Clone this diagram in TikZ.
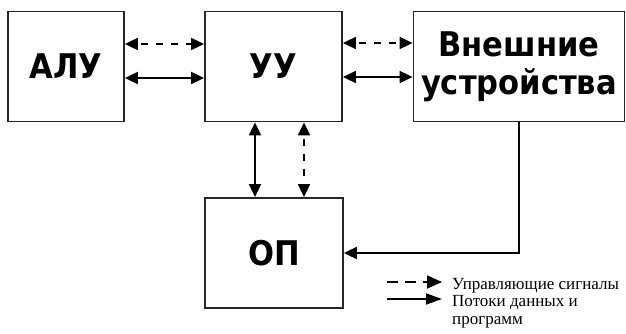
\documentclass[tikz,border=0pt]{standalone}
\usepackage{fontspec}
\setmainfont{Liberation Serif}
\newfontfamily\blockfont{DejaVu Sans Condensed}
\usetikzlibrary{arrows.meta}
\tikzset{
  cpu block/.style={
    draw=black!85,line width=1.8pt,fill=white,inner sep=0pt,
    font=\blockfont\bfseries\fontsize{34}{38}\selectfont,align=center
  },
  cpu link/.style={black,line width=1.8pt,
    {Triangle[length=13pt,width=12pt]}-{Triangle[length=13pt,width=12pt]}},
  cpu ctrl/.style={cpu link,dash pattern=on 7pt off 8pt,dash phase=-4pt},
  cpu note/.style={anchor=base west,font=\fontsize{17}{18}\selectfont,inner sep=0pt}
}

\begin{document}
\begin{tikzpicture}[x=1pt,y=-1pt]
  \useasboundingbox (0,0) rectangle (626,334);
  \node[cpu block,minimum width=116pt,minimum height=110pt] (alu) at (66,66.5) {АЛУ};
  \node[cpu block,minimum width=137pt,minimum height=110pt] (uu) at (273.5,66.5) {УУ};
  \node[cpu block,minimum width=211pt,minimum height=110pt] (vu) at (519,66.5)
    {Внешние\\[0pt]устройства};
  \node[cpu block,minimum width=138pt,minimum height=110pt] (op) at (274,253) {ОП};
  \draw[cpu ctrl] ([yshift=22.5pt]alu.east)--([yshift=22.5pt]uu.west);
  \draw[cpu link] ([yshift=-11.5pt]alu.east)--([yshift=-11.5pt]uu.west);
  \draw[cpu ctrl] ([yshift=23.5pt]uu.east)--([yshift=23.5pt]vu.west);
  \draw[cpu link] ([yshift=-10.5pt]uu.east)--([yshift=-10.5pt]vu.west);
  \draw[cpu link] ([xshift=-18.5pt]uu.south)--([xshift=-19pt]op.north);
  \draw[cpu ctrl] ([xshift=30.5pt]uu.south)--([xshift=30pt]op.north);
  \draw[cpu link,{}-{Triangle[length=13pt,width=12pt]}] (vu.south) |- (op.east);
  % legend
  \coordinate (lg1) at (387,282);
  \coordinate (lg2) at (387,299);
  \draw[cpu ctrl,dash pattern=on 11pt off 7pt,dash phase=0pt,
    {}-{Triangle[length=15pt,width=13pt]}] (lg1)--++(55,0);
  \draw[cpu link,{}-{Triangle[length=16pt,width=11pt]}] (lg2)--++(55,0);
  \node[cpu note] (ctrl) at (452,289) {Управляющие сигналы};
  \node[cpu note] (data) at (452,306) {Потоки данных и};
  \node[cpu note] (prog) at (452,324) {программ};
\end{tikzpicture}
\end{document}
